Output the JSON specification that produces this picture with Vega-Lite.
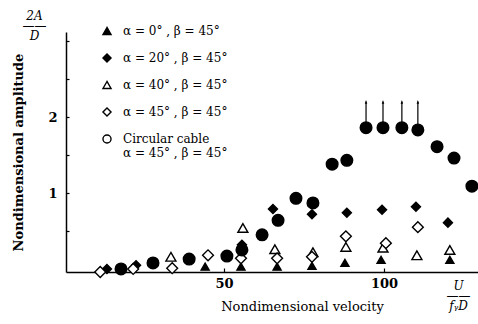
{
  "$schema": "https://vega.github.io/schema/vega-lite/v6.json",
  "width": 412,
  "height": 240,
  "autosize": {"type": "none"},
  "padding": {"left": 66, "top": 32, "right": 0, "bottom": 52},
  "background": "white",
  "config": {"view": {"stroke": null}, "font": "DejaVu Serif"},
  "datasets": {
    "arrows": [
      {"velocity": 94.4, "low": 1.9, "high": 2.2},
      {"velocity": 99.7, "low": 1.9, "high": 2.2},
      {"velocity": 105.6, "low": 1.9, "high": 2.2},
      {"velocity": 110.6, "low": 1.9, "high": 2.2}
    ]
  },
  "layer": [
    {
      "data": {"values": [
        {"series": "α = 0° ,  β = 45°", "velocity": 44.1, "amplitude": 0.03},
        {"series": "α = 0° ,  β = 45°", "velocity": 55.3, "amplitude": 0.03},
        {"series": "α = 0° ,  β = 45°", "velocity": 66.6, "amplitude": 0.03},
        {"series": "α = 0° ,  β = 45°", "velocity": 77.5, "amplitude": 0.04},
        {"series": "α = 0° ,  β = 45°", "velocity": 87.8, "amplitude": 0.08},
        {"series": "α = 0° ,  β = 45°", "velocity": 99.1, "amplitude": 0.12},
        {"series": "α = 0° ,  β = 45°", "velocity": 120.6, "amplitude": 0.12},
        {"series": "α = 20° ,  β = 45°", "velocity": 13.4, "amplitude": 0.0},
        {"series": "α = 20° ,  β = 45°", "velocity": 22.5, "amplitude": 0.05},
        {"series": "α = 20° ,  β = 45°", "velocity": 55.6, "amplitude": 0.32},
        {"series": "α = 20° ,  β = 45°", "velocity": 65.3, "amplitude": 0.79},
        {"series": "α = 20° ,  β = 45°", "velocity": 77.5, "amplitude": 0.72},
        {"series": "α = 20° ,  β = 45°", "velocity": 88.4, "amplitude": 0.74},
        {"series": "α = 20° ,  β = 45°", "velocity": 99.4, "amplitude": 0.78},
        {"series": "α = 20° ,  β = 45°", "velocity": 110.0, "amplitude": 0.82},
        {"series": "α = 20° ,  β = 45°", "velocity": 120.0, "amplitude": 0.61},
        {"series": "α = 40° ,  β = 45°", "velocity": 33.4, "amplitude": 0.16},
        {"series": "α = 40° ,  β = 45°", "velocity": 55.9, "amplitude": 0.54},
        {"series": "α = 40° ,  β = 45°", "velocity": 65.9, "amplitude": 0.26},
        {"series": "α = 40° ,  β = 45°", "velocity": 77.8, "amplitude": 0.22},
        {"series": "α = 40° ,  β = 45°", "velocity": 88.1, "amplitude": 0.29},
        {"series": "α = 40° ,  β = 45°", "velocity": 99.7, "amplitude": 0.28},
        {"series": "α = 40° ,  β = 45°", "velocity": 110.3, "amplitude": 0.18},
        {"series": "α = 40° ,  β = 45°", "velocity": 120.6, "amplitude": 0.25},
        {"series": "α = 45° ,  β = 45°", "velocity": 11.3, "amplitude": -0.04},
        {"series": "α = 45° ,  β = 45°", "velocity": 21.6, "amplitude": 0.0},
        {"series": "α = 45° ,  β = 45°", "velocity": 33.8, "amplitude": 0.01},
        {"series": "α = 45° ,  β = 45°", "velocity": 45.0, "amplitude": 0.18},
        {"series": "α = 45° ,  β = 45°", "velocity": 55.3, "amplitude": 0.14},
        {"series": "α = 45° ,  β = 45°", "velocity": 66.6, "amplitude": 0.14},
        {"series": "α = 45° ,  β = 45°", "velocity": 77.5, "amplitude": 0.16},
        {"series": "α = 45° ,  β = 45°", "velocity": 88.1, "amplitude": 0.43},
        {"series": "α = 45° ,  β = 45°", "velocity": 100.6, "amplitude": 0.34},
        {"series": "α = 45° ,  β = 45°", "velocity": 110.6, "amplitude": 0.55},
        {"series": "Circular cable", "velocity": 17.8, "amplitude": 0.0},
        {"series": "Circular cable", "velocity": 27.8, "amplitude": 0.08},
        {"series": "Circular cable", "velocity": 39.1, "amplitude": 0.13},
        {"series": "Circular cable", "velocity": 50.9, "amplitude": 0.17},
        {"series": "Circular cable", "velocity": 55.6, "amplitude": 0.25},
        {"series": "Circular cable", "velocity": 61.9, "amplitude": 0.45},
        {"series": "Circular cable", "velocity": 66.9, "amplitude": 0.64},
        {"series": "Circular cable", "velocity": 72.5, "amplitude": 0.93},
        {"series": "Circular cable", "velocity": 77.8, "amplitude": 0.87},
        {"series": "Circular cable", "velocity": 83.8, "amplitude": 1.38},
        {"series": "Circular cable", "velocity": 88.4, "amplitude": 1.43},
        {"series": "Circular cable", "velocity": 94.4, "amplitude": 1.86},
        {"series": "Circular cable", "velocity": 99.7, "amplitude": 1.86},
        {"series": "Circular cable", "velocity": 105.6, "amplitude": 1.86},
        {"series": "Circular cable", "velocity": 110.6, "amplitude": 1.83},
        {"series": "Circular cable", "velocity": 116.6, "amplitude": 1.61},
        {"series": "Circular cable", "velocity": 121.9, "amplitude": 1.46},
        {"series": "Circular cable", "velocity": 127.5, "amplitude": 1.09}
      ]},
      "mark": {"type": "point", "filled": true, "stroke": "black", "strokeWidth": 1.4, "opacity": 1},
      "encoding": {
        "x": {"field": "velocity", "type": "quantitative",
          "scale": {"domain": [0.6, 129.4], "nice": false, "zero": false},
          "axis": {"values": [50, 100], "grid": false, "domainColor": "black", "domainWidth": 1.5,
            "tickColor": "black", "tickSize": -4, "tickWidth": 1.2,
            "labelFont": "DejaVu Serif", "labelFontSize": 13, "labelFontWeight": "bold", "labelColor": "black", "labelPadding": 9, "labelFlush": false,
            "title": "Nondimensional velocity", "titleFont": "DejaVu Serif", "titleFontSize": 13, "titleFontWeight": "normal", "titleColor": "black",
            "titleX": 236, "titleY": 34, "titleBaseline": "middle", "titleAlign": "center"}},
        "y": {"field": "amplitude", "type": "quantitative",
          "scale": {"domain": [-0.04, 3.12], "nice": false, "zero": false},
          "axis": {"values": [0.5, 1, 1.5, 2, 2.5, 3], "grid": false, "domainColor": "black", "domainWidth": 1.5,
            "tickColor": "black", "tickSize": -3, "tickWidth": 1.2,
            "labelExpr": "datum.value == 1 ? '1' : (datum.value == 2 ? '2' : '')",
            "labelFont": "DejaVu Serif", "labelFontSize": 13, "labelFontWeight": "bold", "labelColor": "black", "labelPadding": 12,
            "title": "Nondimensional amplitude", "titleFont": "DejaVu Serif", "titleFontSize": 13, "titleFontWeight": "bold", "titleColor": "black",
            "titleX": -48, "titleY": 120, "titleAngle": -90, "titleBaseline": "middle", "titleAlign": "center"}},
        "shape": {"field": "series", "type": "nominal", "legend": null,
          "scale": {"domain": ["α = 0° ,  β = 45°", "α = 20° ,  β = 45°", "α = 40° ,  β = 45°", "α = 45° ,  β = 45°", "Circular cable"],
                    "range": ["triangle-up", "diamond", "triangle-up", "diamond", "circle"]}},
        "fill": {"field": "series", "type": "nominal", "legend": null,
          "scale": {"domain": ["α = 0° ,  β = 45°", "α = 20° ,  β = 45°", "α = 40° ,  β = 45°", "α = 45° ,  β = 45°", "Circular cable"],
                    "range": ["black", "black", "white", "white", "black"]}},
        "size": {"field": "series", "type": "nominal", "legend": null,
          "scale": {"domain": ["α = 0° ,  β = 45°", "α = 20° ,  β = 45°", "α = 40° ,  β = 45°", "α = 45° ,  β = 45°", "Circular cable"],
                    "range": [65, 135, 65, 125, 100]}}
      }
    },
    {
      "data": {"values": [
        {"series": "α = 0° ,  β = 45°"},
        {"series": "α = 20° ,  β = 45°"},
        {"series": "α = 40° ,  β = 45°"},
        {"series": "α = 45° ,  β = 45°"},
        {"series": "Circular cable"}
      ]},
      "mark": {"type": "point", "filled": true, "opacity": 0, "size": 60, "strokeWidth": 1.4},
      "encoding": {
        "shape": {"field": "series", "type": "nominal",
          "scale": {"domain": ["α = 0° ,  β = 45°", "α = 20° ,  β = 45°", "α = 40° ,  β = 45°", "α = 45° ,  β = 45°", "Circular cable"],
                    "range": ["triangle-up", "diamond", "triangle-up", "diamond", "circle"]},
          "legend": {"title": null, "orient": "none", "legendX": 35, "legendY": -7, "padding": 0,
            "symbolSize": 65, "symbolStrokeColor": "black", "symbolStrokeWidth": 1.4, "symbolOpacity": 1,
            "labelFont": "DejaVu Serif", "labelFontSize": 12, "labelColor": "black", "labelOffset": 10, "labelLimit": 300,
            "rowPadding": 13,
            "labelExpr": "datum.label == 'Circular cable' ? ['Circular cable', '\u2002\u2002α = 45° ,  β = 45°'] : datum.label"}},
        "fill": {"field": "series", "type": "nominal",
          "scale": {"domain": ["α = 0° ,  β = 45°", "α = 20° ,  β = 45°", "α = 40° ,  β = 45°", "α = 45° ,  β = 45°", "Circular cable"],
                    "range": ["black", "black", "white", "white", "white"]},
          "legend": {"title": null, "orient": "none", "legendX": 35, "legendY": -7, "padding": 0,
            "symbolSize": 65, "symbolStrokeColor": "black", "symbolStrokeWidth": 1.4, "symbolOpacity": 1,
            "labelFont": "DejaVu Serif", "labelFontSize": 12, "labelColor": "black", "labelOffset": 10, "labelLimit": 300,
            "rowPadding": 13,
            "labelExpr": "datum.label == 'Circular cable' ? ['Circular cable', '\u2002\u2002α = 45° ,  β = 45°'] : datum.label"}},
        "stroke": {"field": "series", "type": "nominal",
          "scale": {"domain": ["α = 0° ,  β = 45°", "α = 20° ,  β = 45°", "α = 40° ,  β = 45°", "α = 45° ,  β = 45°", "Circular cable"],
                    "range": ["black", "black", "black", "black", "black"]},
          "legend": {"title": null, "orient": "none", "legendX": 35, "legendY": -7, "padding": 0,
            "symbolSize": 65, "symbolStrokeColor": "black", "symbolStrokeWidth": 1.4, "symbolOpacity": 1,
            "labelFont": "DejaVu Serif", "labelFontSize": 12, "labelColor": "black", "labelOffset": 10, "labelLimit": 300,
            "rowPadding": 13,
            "labelExpr": "datum.label == 'Circular cable' ? ['Circular cable', '\u2002\u2002α = 45° ,  β = 45°'] : datum.label"}}
      }
    },
    {
      "data": {"name": "arrows"},
      "mark": {"type": "rule", "stroke": "black", "strokeWidth": 1.2},
      "encoding": {
        "x": {"field": "velocity", "type": "quantitative",
          "scale": {"domain": [0.6, 129.4], "nice": false, "zero": false},
          "axis": {"orient": "bottom", "domain": false, "ticks": false, "labels": false, "grid": false,
            "title": ["U", "——", "fᵧD"], "titleFont": "DejaVu Serif", "titleFontSize": 12, "titleFontStyle": "italic", "titleFontWeight": "normal", "titleColor": "black",
            "titleLineHeight": 10, "titleX": 392, "titleY": 13, "titleBaseline": "middle", "titleAlign": "center"}},
        "y": {"field": "low", "type": "quantitative",
          "scale": {"domain": [-0.04, 3.12], "nice": false, "zero": false},
          "axis": {"orient": "left", "domain": false, "ticks": false, "labels": false, "grid": false,
            "title": ["2A", "——", "D"], "titleFont": "DejaVu Serif", "titleFontSize": 12, "titleFontStyle": "italic", "titleFontWeight": "normal", "titleColor": "black",
            "titleLineHeight": 10, "titleAngle": 0, "titleX": -32, "titleY": -17, "titleBaseline": "middle", "titleAlign": "center"}},
        "y2": {"field": "high"}
      }
    },
    {
      "data": {"name": "arrows"},
      "mark": {"type": "point", "shape": "M -0.35 0.5 L 0 -0.5 L 0.35 0.5 Z", "filled": true, "fill": "black", "size": 50, "opacity": 1},
      "encoding": {
        "x": {"field": "velocity", "type": "quantitative", "scale": {"domain": [0.6, 129.4], "nice": false, "zero": false}, "axis": null},
        "y": {"field": "high", "type": "quantitative", "scale": {"domain": [-0.04, 3.12], "nice": false, "zero": false}, "axis": null}
      }
    }
  ],
  "resolve": {
    "scale": {"shape": "independent", "fill": "independent", "size": "independent", "stroke": "independent"},
    "axis": {"x": "independent", "y": "independent"}
  }
}
